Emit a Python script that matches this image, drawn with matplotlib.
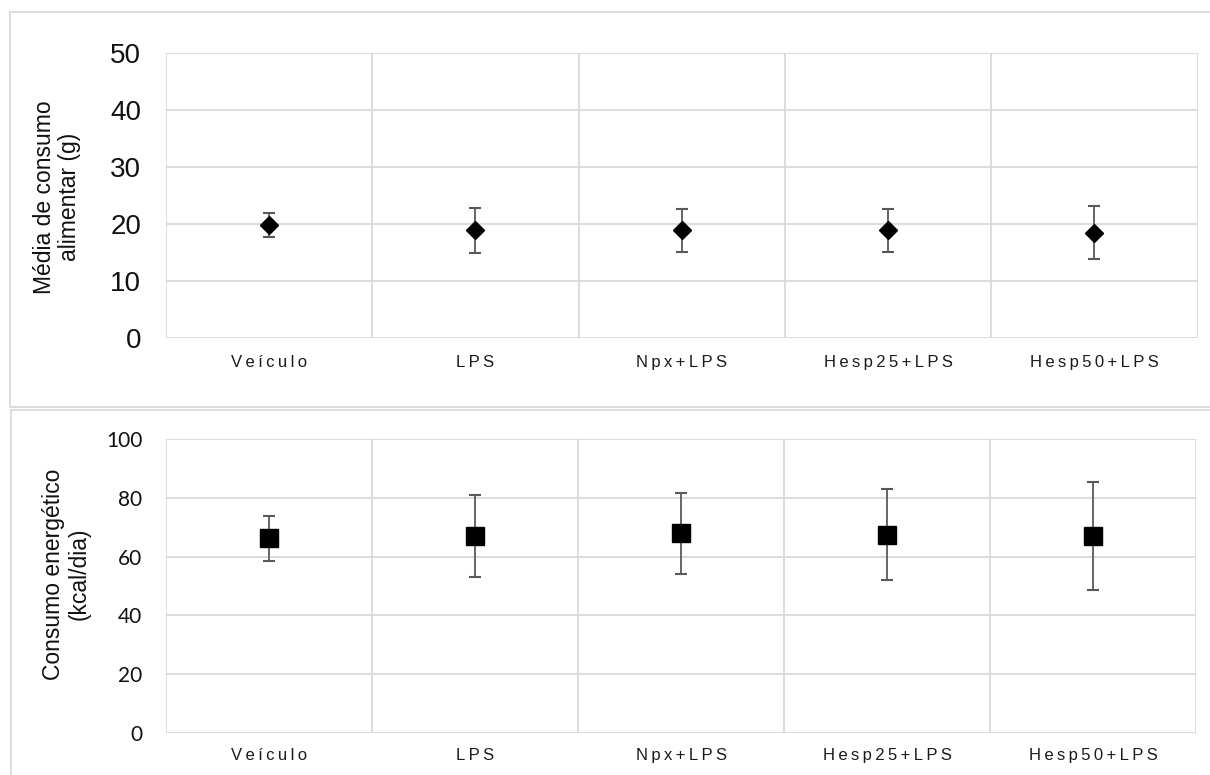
import matplotlib
matplotlib.use("Agg")
import matplotlib.pyplot as plt
from matplotlib.patches import Rectangle
import numpy as np

plt.rcParams['font.family'] = ['Liberation Sans', 'DejaVu Sans']

# Groups and measured values
categories = ["Veículo", "LPS", "Npx+LPS", "Hesp25+LPS", "Hesp50+LPS"]

food_mean = [19.8, 18.9, 18.9, 18.9, 18.5]
food_sd = [2.1, 3.9, 3.8, 3.8, 4.7]

energy_mean = [66.2, 67.0, 67.9, 67.5, 66.9]
energy_sd = [7.7, 14.0, 13.8, 15.6, 18.4]

GRID = "#d9d9d9"
ERR = "#595959"


def spaced(label):
    # wide letter tracking for the category names
    return "\u2009".join(label)


fig = plt.figure(figsize=(12.1, 7.75), dpi=100)
W, H = 1210, 775

# panel frames
for (x0, y0, x1, y1) in [(10, 12, 1230, 407), (11, 410, 1230, 800)]:
    fig.patches.append(Rectangle((x0 / W, 1 - y1 / H), (x1 - x0) / W, (y1 - y0) / H,
                                 transform=fig.transFigure, fill=False,
                                 edgecolor=GRID, linewidth=1.3, zorder=0))


def style_axes(ax, ymax, ystep, tick_font, tick_size, tick_pad, xpad):
    n = len(categories)
    ax.set_xlim(-0.5, n - 0.5)
    ax.set_ylim(0, ymax)
    ax.set_yticks(np.arange(0, ymax + 0.1, ystep))
    ax.yaxis.grid(True, color=GRID, linewidth=1.3, zorder=0)
    for b in np.arange(-0.5, n, 1.0):
        ax.axvline(b, color=GRID, linewidth=1.3, zorder=0)
    for s in ax.spines.values():
        s.set_visible(False)
    ax.tick_params(axis='both', length=0)
    ax.tick_params(axis='y', pad=tick_pad)
    ax.tick_params(axis='x', pad=xpad)
    ax.set_xticks(range(n))
    ax.set_xticklabels([spaced(c) for c in categories], fontsize=12,
                       color="#1a1a1a")
    for t in ax.get_yticklabels():
        t.set_fontfamily(tick_font)
        t.set_fontsize(tick_size)
        t.set_color("#111111")
    ax.set_axisbelow(True)


# top panel: food intake
ax1 = fig.add_axes([166 / W, 1 - 338 / H, (1197.5 - 166) / W, (338 - 53) / H])
x = np.arange(len(categories))
ax1.errorbar(x, food_mean, yerr=food_sd, fmt='none', ecolor=ERR,
             elinewidth=1.3, capsize=4.5, capthick=1.5, zorder=2)
ax1.plot(x, food_mean, linestyle='none', marker='D', markersize=8.8,
         color='black', zorder=3)
style_axes(ax1, 50, 10, ['Liberation Sans', 'DejaVu Sans'], 20, 18, 12.5)

fig.text(57 / W, 1 - 197 / H, "Média de consumo\nalimentar (g)", rotation=90,
         ha='center', va='center', multialignment='center', fontsize=16.5,
         linespacing=1.15, color="#111111")

# bottom panel: energy intake
ax2 = fig.add_axes([166 / W, 1 - 733 / H, (1196 - 166) / W, (733 - 439) / H])
ax2.errorbar(x, energy_mean, yerr=energy_sd, fmt='none', ecolor=ERR,
             elinewidth=1.3, capsize=4.5, capthick=1.5, zorder=2)
ax2.plot(x, energy_mean, linestyle='none', marker='s', markersize=12.5,
         color='black', zorder=3)
style_axes(ax2, 100, 20, ['Lato', 'DejaVu Sans'], 15, 17, 11)

fig.text(66 / W, 1 - 574 / H, "Consumo energético\n(kcal/dia)", rotation=90,
         ha='center', va='center', multialignment='center', fontsize=16.5,
         linespacing=1.15, color="#111111")

fig.savefig("out.png", dpi=100, facecolor='white')
